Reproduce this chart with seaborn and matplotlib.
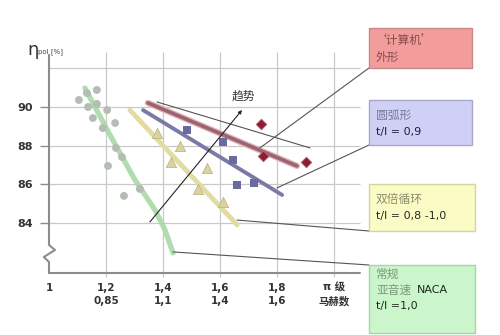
import matplotlib
matplotlib.use("Agg")
import matplotlib.pyplot as plt
import matplotlib.patches as patches
import seaborn as sns

# data
mach_circle = [1.105, 1.133, 1.168, 1.137, 1.168, 1.204, 1.154, 1.232, 1.189, 1.235, 1.256, 1.207, 1.263, 1.319]
eta_circle = [90.36, 90.72, 90.88, 90.0, 90.16, 89.84, 89.43, 89.17, 88.91, 87.88, 87.41, 86.95, 85.40, 85.76]

mach_tri = [1.379, 1.460, 1.428, 1.554, 1.523, 1.611]
eta_tri = [88.66, 87.98, 87.16, 86.84, 85.76, 85.09]

mach_sq = [1.484, 1.611, 1.646, 1.660, 1.719]
eta_sq = [88.81, 88.19, 87.26, 85.96, 86.07]

mach_dia = [1.744, 1.751, 1.902]
eta_dia = [89.12, 87.47, 87.16]

# trend lines
naca_m = [1.126, 1.214, 1.302, 1.372, 1.407, 1.435]
naca_eta = [90.98, 88.55, 86.22, 84.67, 83.64, 82.45]
dca_m = [1.284, 1.660]
dca_eta = [89.84, 83.90]
arc_m = [1.330, 1.818]
arc_eta = [89.84, 85.45]
cda_m = [1.347, 1.870]
cda_eta = [90.21, 86.95]
thin_m = [1.379, 1.916]
thin_eta = [90.26, 87.88]
trend_m = [1.354, 1.677]
trend_eta = [84.05, 89.84]

xticks = [1.0, 1.2, 1.4, 1.6, 1.8, 2.0]
xlabels = ["1", "1,2\n0,85", "1,4\n1,1", "1,6\n1,4", "1,8\n1,6", "π 级\n马赫数"]
yticks = [84, 86, 88, 90]
ylabels = ["84", "86", "88", "90"]

sns.set_style("white")
plt.rcParams['font.family'] = ['DejaVu Sans', 'Noto Sans CJK SC']

W, H = 500, 335
fig = plt.figure(figsize=(5, 3.35), dpi=100)
ax = fig.add_axes([49 / W, (H - 273) / H, 451 / W, 273 / H])
ax.set_xlim(1.0, 2.5825)
ax.set_ylim(81.41, 95.535)
for s in ax.spines.values():
    s.set_visible(False)

def fp(x, y):
    return (x / W, 1 - y / H)

# grid
gc = "#c9c9c9"
ax.hlines([84, 86, 88, 90, 92], 1.0, 2.09, color=gc, lw=0.9, zorder=0)
ax.vlines([1.2, 1.4, 1.6, 1.8, 2.0], 81.2, 92.85, color=gc, lw=0.9, zorder=0, clip_on=False)

# axes with break
axc = "#8c8c8c"
ax.plot([1.0, 1.0, 1.021, 0.982, 1.0, 1.0], [92.7, 82.86, 82.60, 82.24, 81.98, 81.41],
        color=axc, lw=1.5, clip_on=False, zorder=1)
ax.plot([1.0, 2.09], [81.41, 81.41], color=axc, lw=1.5, clip_on=False, zorder=1)

# thick lines
sns.lineplot(x=naca_m, y=naca_eta, sort=False, estimator=None, color="#a9d9a6", lw=3.8, alpha=0.9, ax=ax)
sns.lineplot(x=dca_m, y=dca_eta, sort=False, estimator=None, color="#e2dca4", lw=3.5, ax=ax)
sns.lineplot(x=arc_m, y=arc_eta, sort=False, estimator=None, color="#7a7aa6", lw=2.8, ax=ax)
sns.lineplot(x=cda_m, y=cda_eta, sort=False, estimator=None, color="#e2b4b8", lw=4.5, ax=ax)
sns.lineplot(x=cda_m, y=cda_eta, sort=False, estimator=None, color="#9a6470", lw=2.6, ax=ax)
sns.lineplot(x=thin_m, y=thin_eta, sort=False, estimator=None, color="#555555", lw=0.8, ax=ax)

# markers
sns.scatterplot(x=mach_circle, y=eta_circle, marker="o", s=32, color="#b3bdb2", edgecolor="none", ax=ax, zorder=3)
sns.scatterplot(x=mach_tri, y=eta_tri, marker="^", s=55, color="#d9d3a0", edgecolor="#b8b07a", linewidth=0.5, ax=ax, zorder=3)
sns.scatterplot(x=mach_sq, y=eta_sq, marker="s", s=30, color="#6a6aa0", edgecolor="none", ax=ax, zorder=3)
sns.scatterplot(x=mach_dia, y=eta_dia, marker="D", s=30, color="#8c1f35", edgecolor="#c06070", linewidth=0.5, ax=ax, zorder=3)

# trend arrow
ax.annotate("", xy=(trend_m[1], trend_eta[1]), xytext=(trend_m[0], trend_eta[0]),
            arrowprops=dict(arrowstyle="-|>", color="#222222", lw=0.8, mutation_scale=5,
                            shrinkA=0, shrinkB=0))
ax.text(1.681, 90.55, "趋势", fontsize=8.5, color="#333333", ha="center", va="center",
        family=['Noto Sans CJK SC'])

# ticks
ax.set_xticks(xticks)
ax.set_xticklabels(xlabels, fontsize=7.5, fontweight="bold", color="#333333", linespacing=1.35,
                   family=['DejaVu Sans', 'Noto Sans CJK SC'])
ax.set_yticks(yticks)
ax.set_yticklabels(ylabels, fontsize=8, fontweight="bold", color="#333333")
ax.tick_params(axis="y", length=6.5, width=1, color=axc, pad=5, direction="out", left=True)
ax.tick_params(axis="x", length=0, pad=7, bottom=True)

# y label
fig.text(*fp(27, 50), "η", fontsize=13, color="#333333", va="center", ha="left")
fig.text(*fp(38, 52), "pol [%]", fontsize=5, color="#444444", va="center", ha="left")

# callout boxes
boxes = [
    (369, 28, 472, 68, "#f39c9c", "#c88888"),
    (369, 100, 472, 145, "#d0d0f6", "#a8a8cc"),
    (369, 184, 475, 231, "#fbfbc6", "#d4d4a0"),
    (369, 265, 475, 333, "#cbf5cb", "#a8d4a8"),
]
for x0, y0, x1, y1, fc, ec in boxes:
    fig.add_artist(patches.Rectangle(fp(x0, y1), (x1 - x0) / W, (y1 - y0) / H,
                                     transform=fig.transFigure, facecolor=fc, edgecolor=ec, lw=1))

cjk = ['Noto Sans CJK SC', 'DejaVu Sans']
lat = ['DejaVu Sans', 'Noto Sans CJK SC']
fig.text(*fp(374, 40), "‘计算机’", fontsize=8.5, color="#8a4a4a", va="center", family=cjk)
fig.text(*fp(376, 57), "外形", fontsize=8.5, color="#8a4a4a", va="center", family=cjk)
fig.text(*fp(376, 115), "圆弧形", fontsize=8.5, color="#7a7a9a", va="center", family=cjk)
fig.text(*fp(376, 132), "t/l = 0,9", fontsize=8, color="#1e1e3c", va="center", family=lat)
fig.text(*fp(376, 199), "双倍循环", fontsize=8.5, color="#8a8a6a", va="center", family=cjk)
fig.text(*fp(376, 216), "t/l = 0,8 -1,0", fontsize=8, color="#2a2a20", va="center", family=lat)
fig.text(*fp(376, 274), "常规", fontsize=8.5, color="#7a9a7a", va="center", family=cjk)
fig.text(*fp(376, 290), "亚音速", fontsize=8.5, color="#7a9a7a", va="center", family=cjk)
fig.text(*fp(417, 290), "NACA", fontsize=8, color="#1e2a1e", va="center", family=lat)
fig.text(*fp(376, 306), "t/l =1,0", fontsize=8, color="#1e2a1e", va="center", family=lat)

# leader lines from boxes to the curves
leaders = [
    ((369, 68), (1.740, 87.88)),
    ((369, 145), (1.800, 85.81)),
    ((369, 231), (1.660, 84.15)),
    ((369, 265), (1.435, 82.50)),
]
for (bx, by), xy in leaders:
    ax.annotate("", xy=xy, xytext=fp(bx, by), textcoords="figure fraction",
                arrowprops=dict(arrowstyle="-", color="#555555", lw=0.8, shrinkA=0, shrinkB=0))

fig.savefig("out.png", dpi=100)
plt.close(fig)
